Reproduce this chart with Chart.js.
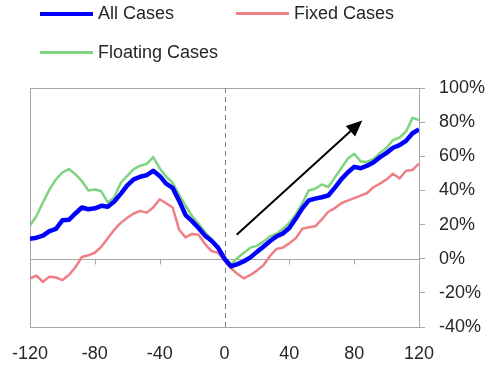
<!DOCTYPE html>
<html lang="en">
<head>
  <meta charset="UTF-8">
  <title>All / Fixed / Floating Cases</title>
  <script src="https://cdn.jsdelivr.net/npm/chart.js"></script>
  <style>
    body {
      margin: 0;
      padding: 0;
      background: #ffffff;
      font-family: 'Liberation Sans', Arial, sans-serif;
    }

    .wrap {
      position: relative;
      width: 492px;
      height: 372px;
    }

    .legend-item {
      position: absolute;
      display: flex;
      align-items: center;
      font-size: 18px;
      color: #262626;
      white-space: nowrap;
    }

    .legend-item span.swatch {
      display: inline-block;
      width: 53px;
      margin-right: 5px;
    }
  </style>
</head>
<body>
  <div class="wrap">
    <canvas id="chart" width="492" height="372"></canvas>
    <div class="legend-item" style="left:40px; top:3px;"><span class="swatch" style="border-top:4px solid #0000ff;"></span>All Cases</div>
    <div class="legend-item" style="left:236px; top:3px;"><span class="swatch" style="border-top:3px solid #ee7f86;"></span>Fixed Cases</div>
    <div class="legend-item" style="left:40px; top:42px;"><span class="swatch" style="border-top:3px solid #7fd47f;"></span>Floating Cases</div>
  </div>

  <script>
    // x positions (days around the event)
    const offsets = [
      -120, -116, -112, -108, -104, -100, -96, -92, -88, -84, -80, -76, -72, -68, -64, -60,
      -56, -52, -48, -44, -40, -36, -32, -28, -24, -20, -16, -12, -8, -4, 0,
      4, 8, 12, 16, 20, 24, 28, 32, 36, 40, 44, 48, 52, 56, 60,
      64, 68, 72, 76, 80, 84, 88, 92, 96, 100, 104, 108, 112, 116, 120
    ];

    // values in %
    const allCases = [
      11.6, 12.3, 13.5, 16.2, 17.5, 22.5, 22.8, 26.5, 30.0, 29.0, 29.5, 31.0, 30.5, 33.5, 38.0, 43.0,
      46.5, 48.0, 49.0, 51.5, 48.5, 44.0, 41.5, 34.0, 25.5, 22.0, 18.0, 13.5, 10.5, 6.5, 0.0,
      -4.5, -3.2, -1.5, 0.8, 4.0, 7.0, 10.2, 13.0, 14.8, 18.0, 23.5, 29.5, 34.2, 35.2, 36.0,
      37.0, 41.5, 46.5, 50.5, 53.8, 53.0, 54.5, 56.5, 59.5, 62.0, 65.0, 66.5, 69.0, 73.5, 75.7
    ];

    const fixedCases = [
      -11.5, -10.0, -13.5, -10.5, -11.0, -12.5, -9.5, -5.0, 1.0, 2.0, 3.5, 7.0, 12.0, 17.0, 21.0, 24.0,
      26.5, 28.0, 27.0, 30.0, 34.8, 32.5, 30.0, 17.0, 12.5, 14.5, 14.0, 8.6, 4.5, 3.5, -1.0,
      -5.5, -9.0, -11.5, -9.5, -7.0, -3.8, 1.5, 5.7, 6.5, 9.0, 12.0, 17.5, 18.4, 19.0, 23.0,
      27.5, 29.5, 32.5, 34.0, 35.5, 37.0, 38.5, 42.0, 44.0, 46.5, 49.8, 47.0, 51.5, 52.0, 55.7
    ];

    const floatingCases = [
      19.4, 25.0, 33.0, 40.5, 46.5, 50.5, 52.5, 49.5, 45.5, 40.0, 40.5, 39.5, 33.0, 36.0, 44.5, 48.5,
      52.5, 54.5, 55.5, 59.5, 53.0, 48.0, 44.5, 37.5, 31.0, 25.0, 20.5, 15.5, 11.5, 6.0, 0.5,
      -3.5, 0.5, 3.5, 6.5, 7.5, 10.0, 13.0, 14.5, 17.5, 21.0, 26.0, 32.5, 40.0, 41.0, 43.5,
      42.0, 47.5, 53.0, 58.5, 61.5, 57.0, 56.7, 58.5, 62.0, 65.0, 69.5, 71.0, 74.5, 82.5, 81.2
    ];

    const xTicks = [-120, -80, -40, 0, 40, 80, 120];
    const yTicks = [-40, -20, 0, 20, 40, 60, 80, 100];

    // arrow annotation (x, %)
    const arrowFrom = [7.5, 14];
    const arrowTo = [85, 81];

    const toPoints = vals => vals.map((v, i) => ({ x: offsets[i], y: v }));

    // frame, zero axis, dashed event line and arrow
    const decorations = {
      id: 'decorations',
      beforeDatasetsDraw(chart) {
        const { ctx, chartArea: a, scales: { x, y } } = chart;
        ctx.save();
        ctx.strokeStyle = '#a6a6a6';
        ctx.lineWidth = 1;
        ctx.strokeRect(a.left + 0.5, a.top + 0.5, a.right - a.left, a.bottom - a.top);

        const y0 = Math.round(y.getPixelForValue(0)) + 0.5;
        ctx.beginPath();
        ctx.moveTo(a.left, y0);
        ctx.lineTo(a.right, y0);
        xTicks.forEach(t => {
          const px = Math.round(x.getPixelForValue(t)) + 0.5;
          ctx.moveTo(px, y0);
          ctx.lineTo(px, y0 + 5);
        });
        ctx.stroke();

        const xz = Math.round(x.getPixelForValue(0)) + 0.5;
        ctx.strokeStyle = '#808080';
        ctx.setLineDash([5, 4]);
        ctx.beginPath();
        ctx.moveTo(xz, a.top);
        ctx.lineTo(xz, a.bottom);
        ctx.stroke();
        ctx.restore();
      },
      afterDatasetsDraw(chart) {
        const { ctx, scales: { x, y } } = chart;
        const x1 = x.getPixelForValue(arrowFrom[0]), y1 = y.getPixelForValue(arrowFrom[1]);
        const x2 = x.getPixelForValue(arrowTo[0]), y2 = y.getPixelForValue(arrowTo[1]);
        const ang = Math.atan2(y2 - y1, x2 - x1);
        const head = 16, half = 7;
        const bx = x2 - head * Math.cos(ang), by = y2 - head * Math.sin(ang);
        ctx.save();
        ctx.strokeStyle = '#000000';
        ctx.fillStyle = '#000000';
        ctx.lineWidth = 2;
        ctx.beginPath();
        ctx.moveTo(x1, y1);
        ctx.lineTo(bx, by);
        ctx.stroke();
        ctx.beginPath();
        ctx.moveTo(x2, y2);
        ctx.lineTo(bx + half * Math.sin(ang), by - half * Math.cos(ang));
        ctx.lineTo(bx - half * Math.sin(ang), by + half * Math.cos(ang));
        ctx.closePath();
        ctx.fill();
        ctx.restore();
      }
    };

    const tickFont = { family: "'Liberation Sans', Arial, sans-serif", size: 18 };

    new Chart(document.getElementById('chart'), {
      type: 'line',
      data: {
        datasets: [
          { label: 'All Cases', data: toPoints(allCases), borderColor: '#0000ff', borderWidth: 4.5, order: 0 },
          { label: 'Fixed Cases', data: toPoints(fixedCases), borderColor: '#ee7f86', borderWidth: 2.5, order: 2 },
          { label: 'Floating Cases', data: toPoints(floatingCases), borderColor: '#7fd47f', borderWidth: 2.5, order: 1 }
        ]
      },
      options: {
        responsive: false,
        animation: false,
        elements: { point: { radius: 0 }, line: { tension: 0, borderJoinStyle: 'round' } },
        layout: { padding: { top: 88, left: 30, right: 0, bottom: 0 } },
        plugins: { legend: { display: false }, tooltip: { enabled: false } },
        scales: {
          x: {
            type: 'linear',
            min: -120,
            max: 120,
            grid: { display: false, drawTicks: false },
            border: { display: false },
            afterBuildTicks: s => { s.ticks = xTicks.map(v => ({ value: v })); },
            afterFit: s => { s.height = 45; s.paddingLeft = 0; s.paddingRight = 0; },
            ticks: { color: '#262626', font: tickFont, padding: 16, maxRotation: 0 }
          },
          y: {
            position: 'right',
            min: -40,
            max: 100,
            afterBuildTicks: s => { s.ticks = yTicks.map(v => ({ value: v })); },
            afterFit: s => { s.width = 73; s.paddingTop = 0; s.paddingBottom = 0; },
            grid: { drawOnChartArea: false, color: '#a6a6a6', tickLength: 6 },
            border: { color: '#a6a6a6' },
            ticks: { color: '#262626', font: tickFont, padding: 14, callback: v => v + '%' }
          }
        }
      },
      plugins: [decorations]
    });
  </script>
</body>
</html>
